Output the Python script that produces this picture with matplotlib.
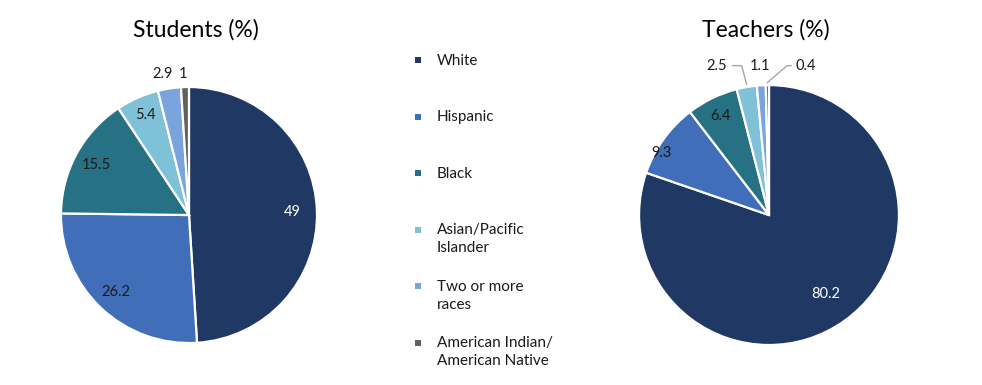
import matplotlib.pyplot as plt
import numpy as np
from matplotlib.patches import Rectangle

plt.rcParams['font.family'] = ['Lato', 'DejaVu Sans']

categories = ['White', 'Hispanic', 'Black', 'Asian/Pacific\nIslander',
              'Two or more\nraces', 'American Indian/\nAmerican Native']
students = [49, 26.2, 15.5, 5.4, 2.9, 1]
teachers = [80.2, 9.3, 6.4, 2.5, 1.1, 0.4]
student_labels = ['49', '26.2', '15.5', '5.4', '2.9', '1']
teacher_labels = ['80.2', '9.3', '6.4', '2.5', '1.1', '0.4']
colors = ['#1F3864', '#406EB8', '#277184', '#7FC2D7', '#7BA3DD', '#606060']

LABEL_FS = 10.5


def mid_angles(values):
    v = np.array(values, dtype=float)
    frac = v / v.sum()
    cum = np.cumsum(frac) - frac / 2
    return np.deg2rad(90 - cum * 360)


def draw_pie(ax, values):
    ax.pie(values, colors=colors, startangle=90, counterclock=False, radius=1,
           wedgeprops=dict(edgecolor='white', linewidth=1.6))
    ax.set_xlim(-1, 1)
    ax.set_ylim(-1, 1)
    ax.set_aspect('equal')
    ax.axis('off')


fig = plt.figure(figsize=(9.82, 3.85), dpi=100)

# students
ax1 = fig.add_axes([0.0621, 0.109, 0.2607, 0.665])
draw_pie(ax1, students)
ang = mid_angles(students)
radii = [0.81, 0.83, 0.82, 0.85]
for i, r in enumerate(radii):
    ax1.text(r * np.cos(ang[i]), r * np.sin(ang[i]), student_labels[i],
             ha='center', va='center', fontsize=LABEL_FS,
             color='white' if i == 0 else '#1a1a1a')
# small slices labelled just outside
ax1.text(-0.21, 1.10, student_labels[4], ha='center', va='center', fontsize=LABEL_FS, color='#1a1a1a')
ax1.text(-0.05, 1.10, student_labels[5], ha='center', va='center', fontsize=LABEL_FS, color='#1a1a1a')
fig.text(196 / 982, 1 - 30 / 385, 'Students (%)', ha='center', va='center', fontsize=16.5)

# teachers
ax2 = fig.add_axes([0.6507, 0.1039, 0.2648, 0.675])
draw_pie(ax2, teachers)
ang = mid_angles(teachers)
r = 0.75
ax2.text(r * np.cos(ang[0]), r * np.sin(ang[0]), teacher_labels[0],
         ha='center', va='center', fontsize=LABEL_FS, color='white')
ax2.text(-0.83, 0.48, teacher_labels[1], ha='center', va='center', fontsize=LABEL_FS, color='#1a1a1a')
r = 0.85
ax2.text(r * np.cos(ang[2]), r * np.sin(ang[2]), teacher_labels[2],
         ha='center', va='center', fontsize=LABEL_FS, color='#1a1a1a')
ax2.text(-0.40, 1.15, teacher_labels[3], ha='center', va='center', fontsize=LABEL_FS, color='#1a1a1a')
ax2.text(-0.07, 1.15, teacher_labels[4], ha='center', va='center', fontsize=LABEL_FS, color='#1a1a1a')
ax2.text(0.28, 1.15, teacher_labels[5], ha='center', va='center', fontsize=LABEL_FS, color='#1a1a1a')
# leader lines
ex, ey = np.cos(ang[3]), np.sin(ang[3])
ax2.plot([-0.28, -0.21, ex], [1.15, 1.15, ey + 0.02], color='#a6a6a6', lw=1, clip_on=False)
ex, ey = np.cos(ang[5]), np.sin(ang[5])
ax2.plot([0.17, 0.14, ex], [1.15, 1.15, ey + 0.02], color='#a6a6a6', lw=1, clip_on=False)
fig.text(766 / 982, 1 - 30 / 385, 'Teachers (%)', ha='center', va='center', fontsize=16.5)

# legend
for k, (name, c) in enumerate(zip(categories, colors)):
    y = 1 - (60 + 56.6 * k) / 385
    fig.add_artist(Rectangle((415 / 982, y - 3 / 385), 6 / 982, 6 / 385,
                             transform=fig.transFigure, color=c, lw=0))
    fig.text(437 / 982, y + 6.5 / 385, name, ha='left', va='top', fontsize=11,
             color='#1a1a1a', linespacing=1.33)

fig.savefig('out.png', dpi=100)
